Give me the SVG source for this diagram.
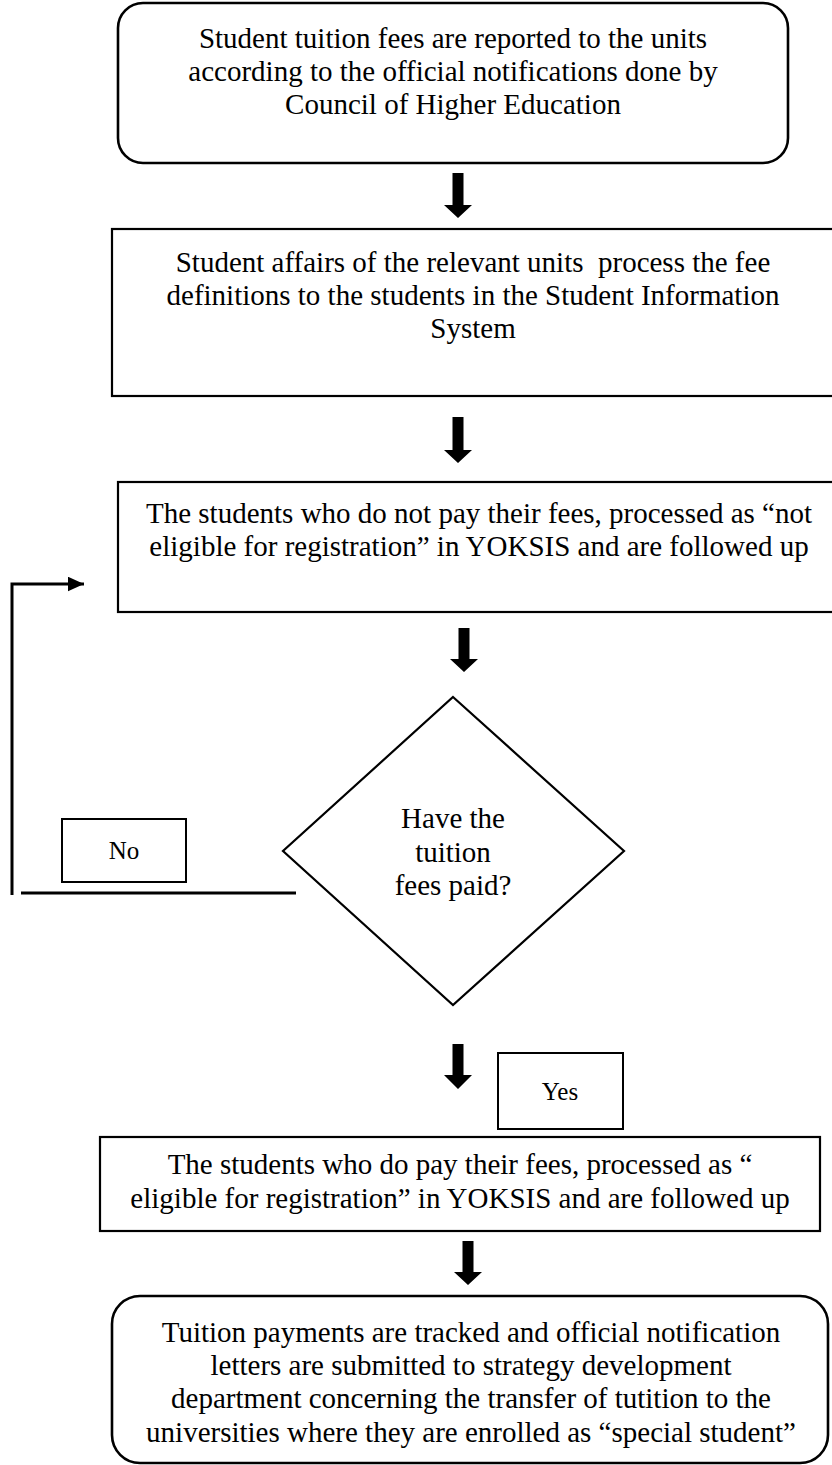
<svg xmlns="http://www.w3.org/2000/svg" width="832" height="1465" viewBox="0 0 832 1465">
<style>
.box{fill:#fff;stroke:#000;stroke-width:2.2}
.rbox{fill:#fff;stroke:#000;stroke-width:2.6}
.lbl{fill:#fff;stroke:#000;stroke-width:2}
.t{font-family:"Liberation Serif","Times New Roman",serif;font-size:29px;fill:#000;text-anchor:middle}
.s{font-family:"Liberation Serif","Times New Roman",serif;font-size:25px;fill:#000;text-anchor:middle}
.arr{fill:#000;stroke:none}
.ln{fill:none;stroke:#000;stroke-width:3}
</style>
<defs>
<marker id="ah" markerWidth="6" markerHeight="6" refX="5.5" refY="2.5" orient="auto" markerUnits="strokeWidth">
<path d="M0,0 L5.5,2.5 L0,5 Z" fill="#000"/>
</marker>
</defs>
<rect width="832" height="1465" fill="#fff"/>
<g id="connectors">
<path class="arr" d="M452.5 173 H463.5 V205 H472 L458 218 L444 205 H452.5 Z"/>
<path class="arr" d="M452.5 417 H463.5 V450 H472 L458 463 L444 450 H452.5 Z"/>
<path class="arr" d="M458.5 628 H469.5 V659 H478 L464 672 L450 659 H458.5 Z"/>
<path class="arr" d="M452.5 1044 H463.5 V1075 H472 L458 1089 L444 1075 H452.5 Z"/>
<path class="arr" d="M462.5 1241 H473.5 V1272 H482 L468 1285 L454 1272 H462.5 Z"/>
<path class="ln" d="M12 895 V584 H84" marker-end="url(#ah)"/>
<path class="ln" d="M21 893 H296" stroke-width="3.5"/>
</g>
<g id="n1">
<rect class="rbox" x="118" y="3" width="670" height="160" rx="25"/>
<text class="t" x="453" y="48">Student tuition fees are reported to the units</text>
<text class="t" x="453" y="81">according to the official notifications done by</text>
<text class="t" x="453" y="114">Council of Higher Education</text>
</g>
<g id="n2">
<rect class="box" x="112" y="229" width="724" height="167"/>
<text class="t" x="473" y="272" xml:space="preserve">Student affairs of the relevant units  process the fee</text>
<text class="t" x="473" y="305">definitions to the students in the Student Information</text>
<text class="t" x="473" y="338">System</text>
</g>
<g id="n3">
<rect class="box" x="118" y="482" width="722" height="130"/>
<text class="t" x="479" y="523">The students who do not pay their fees, processed as “not</text>
<text class="t" x="479" y="556">eligible for registration” in YOKSIS and are followed up</text>
</g>
<g id="n4">
<polygon class="box" points="453,697 624,851 453,1005 283,851"/>
<text class="t" x="453" y="828">Have the</text>
<text class="t" x="453" y="862">tuition</text>
<text class="t" x="453" y="895">fees paid?</text>
</g>
<g id="no">
<rect class="lbl" x="62" y="819" width="124" height="63"/>
<text class="s" x="124" y="859">No</text>
</g>
<g id="yes">
<rect class="lbl" x="498" y="1053" width="125" height="76"/>
<text class="s" x="560" y="1100">Yes</text>
</g>
<g id="n5">
<rect class="box" x="100" y="1137" width="720" height="94"/>
<text class="t" x="460" y="1174">The students who do pay their fees, processed as “</text>
<text class="t" x="460" y="1208">eligible for registration” in YOKSIS and are followed up</text>
</g>
<g id="n6">
<rect class="rbox" x="112" y="1296" width="716" height="167" rx="28"/>
<text class="t" x="471" y="1342">Tuition payments are tracked and official notification</text>
<text class="t" x="471" y="1375">letters are submitted to strategy development</text>
<text class="t" x="471" y="1408">department concerning the transfer of tutition to the</text>
<text class="t" x="471" y="1442">universities where they are enrolled as “special student”</text>
</g>
</svg>
